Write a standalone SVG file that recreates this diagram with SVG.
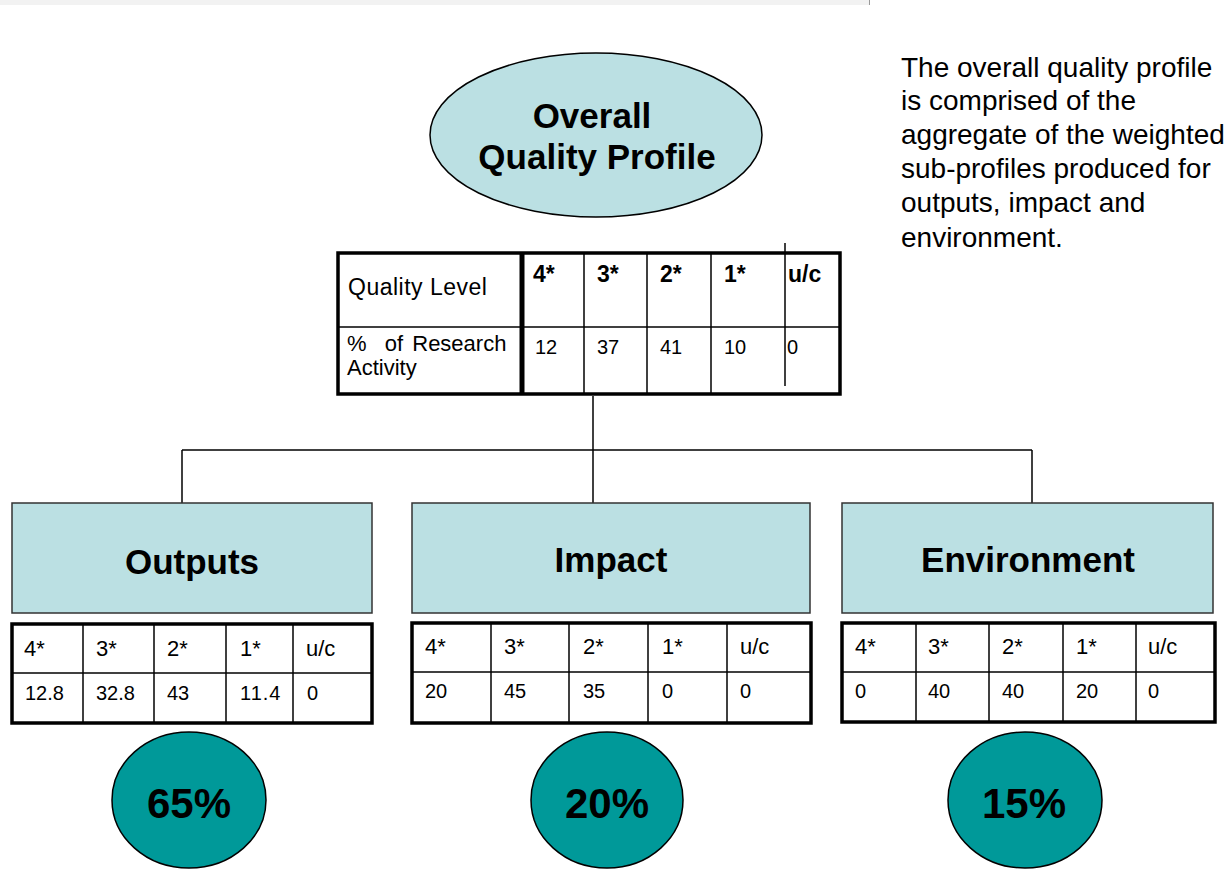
<svg xmlns="http://www.w3.org/2000/svg" width="1230" height="873" viewBox="0 0 1230 873">
  <style>
    text { font-family: "Liberation Sans", Arial, sans-serif; fill: #000; }
    .title { font-size: 35px; font-weight: bold; text-anchor: middle; }
    .pct { font-size: 42px; font-weight: bold; text-anchor: middle; }
    .note { font-size: 28px; }
    .lbl { font-size: 23px; }
    .lbl2 { font-size: 22px; }
    .hdr { font-size: 23px; font-weight: bold; }
    .val { font-size: 20px; }
    .cell { font-size: 22px; }
    .frame { fill: #fff; stroke: #000; stroke-width: 3.5; }
    .grid { stroke: #000; stroke-width: 1.5; fill: none; }
    .box { fill: #bbe0e3; stroke: #333; stroke-width: 1.5; }
    .disc { fill: #009999; stroke: #000; stroke-width: 1.5; }
    .link { stroke: #000; stroke-width: 1.5; fill: none; }
  </style>

  <!-- header band -->
  <rect x="0" y="0" width="869" height="5" fill="#f2f2f2"/>
  <line x1="869.5" y1="0" x2="869.5" y2="5" stroke="#999" stroke-width="1"/>

  <!-- connectors -->
  <g id="connectors">
    <path class="link" d="M593 396 V450"/>
    <path class="link" d="M182 450 H1032"/>
    <path class="link" d="M182 450 V503"/>
    <path class="link" d="M593 450 V503"/>
    <path class="link" d="M1032 450 V503"/>
  </g>

  <!-- root -->
  <g id="overall">
    <ellipse cx="596" cy="135" rx="166" ry="82" fill="#bbe0e3" stroke="#000" stroke-width="1.5"/>
    <text class="title" x="592" y="128">Overall</text>
    <text class="title" x="597" y="169">Quality Profile</text>
  </g>

  <!-- explanatory note -->
  <g id="note">
    <text class="note" x="901" y="77">The overall quality profile</text>
    <text class="note" x="901" y="110">is comprised of the</text>
    <text class="note" x="901" y="144">aggregate of the weighted</text>
    <text class="note" x="901" y="178">sub-profiles produced for</text>
    <text class="note" x="901" y="212">outputs, impact and</text>
    <text class="note" x="901" y="247">environment.</text>
  </g>

  <!-- overall profile table -->
  <g id="overall-table">
    <rect class="frame" x="338" y="253" width="502" height="141"/>
    <line x1="338" y1="327" x2="840" y2="327" class="grid"/>
    <line x1="522" y1="253" x2="522" y2="394" stroke="#000" stroke-width="5"/>
    <line x1="584" y1="253" x2="584" y2="394" class="grid"/>
    <line x1="647" y1="253" x2="647" y2="394" class="grid"/>
    <line x1="711" y1="253" x2="711" y2="394" class="grid"/>
    <line x1="785" y1="243" x2="785" y2="386" class="grid"/>
    <text class="lbl" x="348" y="295" letter-spacing="0.5">Quality Level</text>
    <text class="lbl2" x="347" y="351" word-spacing="3" xml:space="preserve">%  of Research</text>
    <text class="lbl2" x="347" y="375">Activity</text>
    <text class="hdr" x="533" y="282">4*</text>
    <text class="hdr" x="597" y="282">3*</text>
    <text class="hdr" x="660" y="282">2*</text>
    <text class="hdr" x="724" y="282">1*</text>
    <text class="hdr" x="788" y="282">u/c</text>
    <text class="val" x="535" y="354">12</text>
    <text class="val" x="597" y="354">37</text>
    <text class="val" x="660" y="354">41</text>
    <text class="val" x="724" y="354">10</text>
    <text class="val" x="787" y="354">0</text>
  </g>

  <!-- outputs -->
  <g id="outputs">
    <rect class="box" x="12" y="503" width="360" height="110"/>
    <text class="title" x="192" y="574">Outputs</text>
    <rect class="frame" x="12" y="624" width="360" height="99"/>
    <line x1="12" y1="673" x2="372" y2="673" class="grid"/>
    <line x1="83" y1="624" x2="83" y2="723" class="grid"/>
    <line x1="154" y1="624" x2="154" y2="723" class="grid"/>
    <line x1="226" y1="624" x2="226" y2="723" class="grid"/>
    <line x1="293" y1="624" x2="293" y2="723" class="grid"/>
    <text class="cell" x="24" y="656">4*</text>
    <text class="cell" x="96" y="656">3*</text>
    <text class="cell" x="167" y="656">2*</text>
    <text class="cell" x="240" y="656">1*</text>
    <text class="cell" x="306" y="656">u/c</text>
    <text class="val" x="25" y="700">12.8</text>
    <text class="val" x="96" y="700">32.8</text>
    <text class="val" x="167" y="700">43</text>
    <text class="val" x="240" y="700" letter-spacing="1">11.4</text>
    <text class="val" x="307" y="700">0</text>
    <ellipse class="disc" cx="189" cy="800" rx="77" ry="68"/>
    <text class="pct" x="189" y="818">65%</text>
  </g>

  <!-- impact -->
  <g id="impact">
    <rect class="box" x="412" y="503" width="398" height="110"/>
    <text class="title" x="611" y="572">Impact</text>
    <rect class="frame" x="412" y="623" width="399" height="100"/>
    <line x1="412" y1="672" x2="811" y2="672" class="grid"/>
    <line x1="491" y1="623" x2="491" y2="723" class="grid"/>
    <line x1="569" y1="623" x2="569" y2="723" class="grid"/>
    <line x1="648" y1="623" x2="648" y2="723" class="grid"/>
    <line x1="727" y1="623" x2="727" y2="723" class="grid"/>
    <text class="cell" x="425" y="654">4*</text>
    <text class="cell" x="504" y="654">3*</text>
    <text class="cell" x="583" y="654">2*</text>
    <text class="cell" x="662" y="654">1*</text>
    <text class="cell" x="740" y="654">u/c</text>
    <text class="val" x="425" y="698">20</text>
    <text class="val" x="504" y="698">45</text>
    <text class="val" x="583" y="698">35</text>
    <text class="val" x="662" y="698">0</text>
    <text class="val" x="740" y="698">0</text>
    <ellipse class="disc" cx="607" cy="800" rx="76" ry="68"/>
    <text class="pct" x="607" y="818">20%</text>
  </g>

  <!-- environment -->
  <g id="environment">
    <rect class="box" x="842" y="503" width="371" height="110"/>
    <text class="title" x="1028" y="572">Environment</text>
    <rect class="frame" x="842" y="623" width="373" height="99"/>
    <line x1="842" y1="672" x2="1215" y2="672" class="grid"/>
    <line x1="916" y1="623" x2="916" y2="722" class="grid"/>
    <line x1="989" y1="623" x2="989" y2="722" class="grid"/>
    <line x1="1063" y1="623" x2="1063" y2="722" class="grid"/>
    <line x1="1136" y1="623" x2="1136" y2="722" class="grid"/>
    <text class="cell" x="855" y="654">4*</text>
    <text class="cell" x="928" y="654">3*</text>
    <text class="cell" x="1002" y="654">2*</text>
    <text class="cell" x="1076" y="654">1*</text>
    <text class="cell" x="1148" y="654">u/c</text>
    <text class="val" x="855" y="698">0</text>
    <text class="val" x="928" y="698">40</text>
    <text class="val" x="1002" y="698">40</text>
    <text class="val" x="1076" y="698">20</text>
    <text class="val" x="1148" y="698">0</text>
    <ellipse class="disc" cx="1025" cy="800" rx="77" ry="68"/>
    <text class="pct" x="1024" y="818">15%</text>
  </g>
</svg>
